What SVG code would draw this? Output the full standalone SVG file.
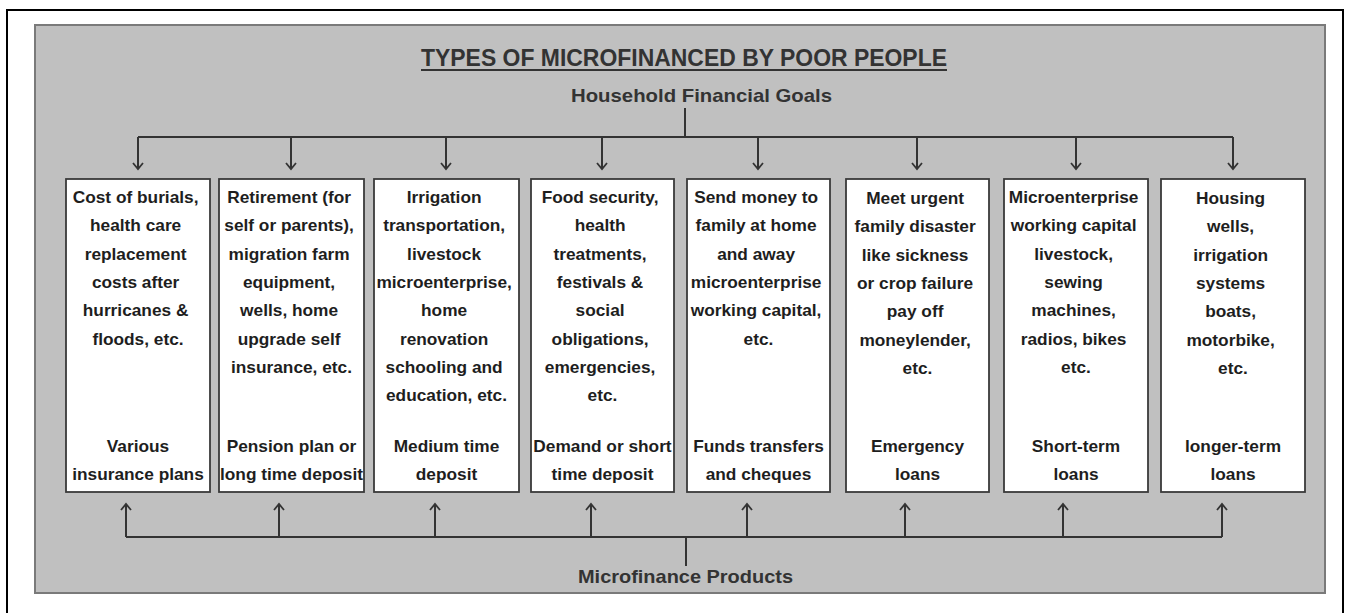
<svg xmlns="http://www.w3.org/2000/svg" width="1346" height="613" viewBox="0 0 1346 613">
  <style>
    .frame { fill: #ffffff; stroke: #000000; stroke-width: 2; }
    .panel { fill: #c0c0c0; stroke: #7a7a7a; stroke-width: 2; }
    .box { fill: #ffffff; stroke: #3a3a3a; stroke-width: 1.8; }
    .head { font-family: "Liberation Sans", Arial, sans-serif; font-weight: bold; fill: #333333; }
    .title { font-size: 23px; }
    .sub { font-size: 19px; }
    .txt { font-family: "Liberation Sans", Arial, sans-serif; font-weight: bold; font-size: 17.3px; fill: #1e1e1e; text-anchor: middle; }
    .wire { fill: none; stroke: #333333; stroke-width: 2; }
    .arrow { fill: none; stroke: #333333; stroke-width: 2; marker-end: url(#chev); }
  </style>
  <defs>
    <marker id="chev" viewBox="-8 -7 10 14" refX="0" refY="0" markerWidth="10" markerHeight="14" markerUnits="userSpaceOnUse" orient="auto">
      <path d="M-6,-5 L0,0 L-6,5" fill="none" stroke="#333333" stroke-width="1.8"/>
    </marker>
  </defs>

  <!-- outer page frame and grey panel -->
  <rect class="frame" x="7" y="10" width="1336" height="630"/>
  <rect class="panel" x="35" y="25" width="1290" height="568"/>

  <!-- headings -->
  <g id="title">
    <text class="head title" x="421" y="66" textLength="526" lengthAdjust="spacingAndGlyphs">TYPES OF MICROFINANCED BY POOR PEOPLE</text>
    <line x1="421" y1="70" x2="947" y2="70" stroke="#333333" stroke-width="2"/>
  </g>
  <g id="goals">
    <text class="head sub" x="571" y="102" textLength="261" lengthAdjust="spacingAndGlyphs">Household Financial Goals</text>
  </g>
  <g id="products">
    <text class="head sub" x="578" y="583" textLength="215" lengthAdjust="spacingAndGlyphs">Microfinance Products</text>
  </g>

  <!-- connectors -->
  <g id="connectors">
    <path class="wire" d="M685,108 V137 M138,137 H1233"/>
    <path class="arrow" d="M138,137 V169"/>
    <path class="arrow" d="M291,137 V169"/>
    <path class="arrow" d="M446,137 V169"/>
    <path class="arrow" d="M602,137 V169"/>
    <path class="arrow" d="M758,137 V169"/>
    <path class="arrow" d="M917,137 V169"/>
    <path class="arrow" d="M1076,137 V169"/>
    <path class="arrow" d="M1233,137 V169"/>

    <path class="wire" d="M126,537 H1222 M686,537 V566"/>
    <path class="arrow" d="M126,537 V504"/>
    <path class="arrow" d="M279,537 V504"/>
    <path class="arrow" d="M435,537 V504"/>
    <path class="arrow" d="M591,537 V504"/>
    <path class="arrow" d="M747,537 V504"/>
    <path class="arrow" d="M905,537 V504"/>
    <path class="arrow" d="M1063,537 V504"/>
    <path class="arrow" d="M1222,537 V504"/>
  </g>

  <!-- goal / product boxes -->
  <g id="insurance">
    <rect class="box" x="66" y="179" width="144" height="313"/>
    <text class="txt">
      <tspan x="138" y="203">Cost of burials,</tspan>
      <tspan x="138" y="231.3">health care</tspan>
      <tspan x="138" y="259.6">replacement</tspan>
      <tspan x="138" y="287.9">costs after</tspan>
      <tspan x="138" y="316.2">hurricanes &amp;</tspan>
      <tspan x="138" y="344.5">floods, etc.</tspan>
    </text>
    <text class="txt"><tspan x="138" y="452">Various</tspan><tspan x="138" y="480">insurance plans</tspan></text>
  </g>

  <g id="pension">
    <rect class="box" x="219" y="179" width="145" height="313"/>
    <text class="txt">
      <tspan x="291.5" y="203">Retirement (for</tspan>
      <tspan x="291.5" y="231.3">self or parents),</tspan>
      <tspan x="291.5" y="259.6">migration farm</tspan>
      <tspan x="291.5" y="287.9">equipment,</tspan>
      <tspan x="291.5" y="316.2">wells, home</tspan>
      <tspan x="291.5" y="344.5">upgrade self</tspan>
      <tspan x="291.5" y="372.8">insurance, etc.</tspan>
    </text>
    <text class="txt"><tspan x="291.5" y="452">Pension plan or</tspan><tspan x="291.5" y="480">long time deposit</tspan></text>
  </g>

  <g id="medium-deposit">
    <rect class="box" x="374" y="179" width="145" height="313"/>
    <text class="txt">
      <tspan x="446.5" y="203">Irrigation</tspan>
      <tspan x="446.5" y="231.3">transportation,</tspan>
      <tspan x="446.5" y="259.6">livestock</tspan>
      <tspan x="446.5" y="287.9">microenterprise,</tspan>
      <tspan x="446.5" y="316.2">home</tspan>
      <tspan x="446.5" y="344.5">renovation</tspan>
      <tspan x="446.5" y="372.8">schooling and</tspan>
      <tspan x="446.5" y="401.1">education, etc.</tspan>
    </text>
    <text class="txt"><tspan x="446.5" y="452">Medium time</tspan><tspan x="446.5" y="480">deposit</tspan></text>
  </g>

  <g id="short-deposit">
    <rect class="box" x="531" y="179" width="143" height="313"/>
    <text class="txt">
      <tspan x="602.5" y="203">Food security,</tspan>
      <tspan x="602.5" y="231.3">health</tspan>
      <tspan x="602.5" y="259.6">treatments,</tspan>
      <tspan x="602.5" y="287.9">festivals &amp;</tspan>
      <tspan x="602.5" y="316.2">social</tspan>
      <tspan x="602.5" y="344.5">obligations,</tspan>
      <tspan x="602.5" y="372.8">emergencies,</tspan>
      <tspan x="602.5" y="401.1">etc.</tspan>
    </text>
    <text class="txt"><tspan x="602.5" y="452">Demand or short</tspan><tspan x="602.5" y="480">time deposit</tspan></text>
  </g>

  <g id="transfers">
    <rect class="box" x="687" y="179" width="143" height="313"/>
    <text class="txt">
      <tspan x="758.5" y="203">Send money to</tspan>
      <tspan x="758.5" y="231.3">family at home</tspan>
      <tspan x="758.5" y="259.6">and away</tspan>
      <tspan x="758.5" y="287.9">microenterprise</tspan>
      <tspan x="758.5" y="316.2">working capital,</tspan>
      <tspan x="758.5" y="344.5">etc.</tspan>
    </text>
    <text class="txt"><tspan x="758.5" y="452">Funds transfers</tspan><tspan x="758.5" y="480">and cheques</tspan></text>
  </g>

  <g id="emergency-loans">
    <rect class="box" x="846" y="179" width="143" height="313"/>
    <text class="txt">
      <tspan x="917.5" y="204">Meet urgent</tspan>
      <tspan x="917.5" y="232.3">family disaster</tspan>
      <tspan x="917.5" y="260.6">like sickness</tspan>
      <tspan x="917.5" y="288.9">or crop failure</tspan>
      <tspan x="917.5" y="317.2">pay off</tspan>
      <tspan x="917.5" y="345.5">moneylender,</tspan>
      <tspan x="917.5" y="373.8">etc.</tspan>
    </text>
    <text class="txt"><tspan x="917.5" y="452">Emergency</tspan><tspan x="917.5" y="480">loans</tspan></text>
  </g>

  <g id="short-loans">
    <rect class="box" x="1004" y="179" width="144" height="313"/>
    <text class="txt">
      <tspan x="1076" y="203">Microenterprise</tspan>
      <tspan x="1076" y="231.3">working capital</tspan>
      <tspan x="1076" y="259.6">livestock,</tspan>
      <tspan x="1076" y="287.9">sewing</tspan>
      <tspan x="1076" y="316.2">machines,</tspan>
      <tspan x="1076" y="344.5">radios, bikes</tspan>
      <tspan x="1076" y="372.8">etc.</tspan>
    </text>
    <text class="txt"><tspan x="1076" y="452">Short-term</tspan><tspan x="1076" y="480">loans</tspan></text>
  </g>

  <g id="long-loans">
    <rect class="box" x="1161" y="179" width="144" height="313"/>
    <text class="txt">
      <tspan x="1233" y="204">Housing</tspan>
      <tspan x="1233" y="232.3">wells,</tspan>
      <tspan x="1233" y="260.6">irrigation</tspan>
      <tspan x="1233" y="288.9">systems</tspan>
      <tspan x="1233" y="317.2">boats,</tspan>
      <tspan x="1233" y="345.5">motorbike,</tspan>
      <tspan x="1233" y="373.8">etc.</tspan>
    </text>
    <text class="txt"><tspan x="1233" y="452">longer-term</tspan><tspan x="1233" y="480">loans</tspan></text>
  </g>
</svg>
